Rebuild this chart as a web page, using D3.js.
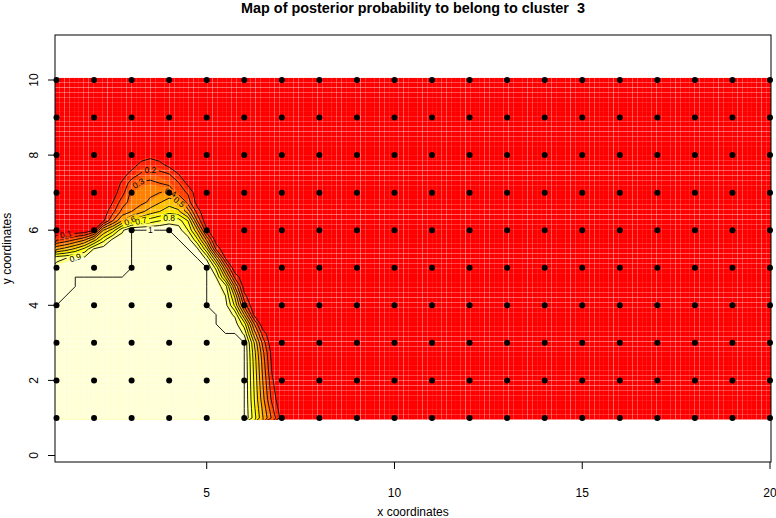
<!DOCTYPE html>
<html><head><meta charset="utf-8">
<script src="https://cdn.jsdelivr.net/npm/d3@7/dist/d3.min.js"></script>
<style>
html,body{margin:0;padding:0;background:#fff;}
svg{display:block;}
text{font-family:"Liberation Sans",Arial,Helvetica,sans-serif;fill:#000;white-space:pre;}
</style></head><body>
<svg id="chart" width="776" height="518"></svg>
<script>
// ---------------- data ----------------
const TITLE = "Map of posterior probability to belong to cluster  3";
const X_LABEL = "x coordinates";
const Y_LABEL = "y coordinates";
const X_TICKS = [5, 10, 15, 20];
const Y_TICKS = [0, 2, 4, 6, 8, 10];
const SITE_X = [1,2,3,4,5,6,7,8,9,10,11,12,13,14,15,16,17,18,19,20];
const SITE_Y = [1,2,3,4,5,6,7,8,9,10];
// estimated posterior probability (percent) on a 0.25 grid, x = 1..7.5, y = 8.5..1 (top to bottom); elsewhere 0
const GRID_X = [1,1.25,1.5,1.75,2,2.25,2.5,2.75,3,3.25,3.5,3.75,4,4.25,4.5,4.75,5,5.25,5.5,5.75,6,6.25,6.5,6.75,7,7.25,7.5];
const GRID_Y = [8.5,8.25,8,7.75,7.5,7.25,7,6.75,6.5,6.25,6,5.75,5.5,5.25,5,4.75,4.5,4.25,4,3.75,3.5,3.25,3,2.75,2.5,2.25,2,1.75,1.5,1.25,1];
const PROB = [
 [0,0,0,0,0,0,0,0,0,0,0,0,0,0,0,0,0,0,0,0,0,0,0,0,0,0,0],
 [0,0,0,0,0,0,0,0,0,0,0,0,0,0,0,0,0,0,0,0,0,0,0,0,0,0,0],
 [0,0,0,0,0,0,0,0,0,4,7,4,0,0,0,0,0,0,0,0,0,0,0,0,0,0,0],
 [0,0,0,0,0,0,0,0,4,13,15,13,6,0,0,0,0,0,0,0,0,0,0,0,0,0,0],
 [0,0,0,0,0,0,0,5,14,21,24,23,20,10,3,0,0,0,0,0,0,0,0,0,0,0,0],
 [0,0,0,0,0,0,2,12,25,32,33,30,26,21,7,0,0,0,0,0,0,0,0,0,0,0,0],
 [0,0,0,0,0,0,5,16,33,36,38,40,43,24,19,3,0,0,0,0,0,0,0,0,0,0,0],
 [0,0,0,0,0,2,10,25,34,37,42,49,55,52,25,5,0,0,0,0,0,0,0,0,0,0,0],
 [0,0,0,0,0,4,17,33,40,47,55,60,66,62,45,15,0,0,0,0,0,0,0,0,0,0,0],
 [0,0,0,0,0,8,30,50,62,70,75,80,85,85,70,30,0,0,0,0,0,0,0,0,0,0,0],
 [0,0,0,0,10,50,65,88,100,100,100,100,100,95,80,52,12,0,0,0,0,0,0,0,0,0,0],
 [18,23,30,38,55,76,92,95,100,100,100,100,100,100,95,72,38,3,0,0,0,0,0,0,0,0,0],
 [48,54,62,73,91,95,97,98,100,100,100,100,100,100,100,92,62,18,0,0,0,0,0,0,0,0,0],
 [88,90,92,93,95,97,97,97,100,100,100,100,100,100,100,100,88,50,10,0,0,0,0,0,0,0,0],
 [93,94,95,96,96,97,97,97,100,100,100,100,100,100,100,100,100,77,35,0,0,0,0,0,0,0,0],
 [97,97,100,100,100,100,100,100,100,100,100,100,100,100,100,100,100,90,57,18,0,0,0,0,0,0,0],
 [98,99,100,100,100,100,100,100,100,100,100,100,100,100,100,100,100,95,85,40,4,0,0,0,0,0,0],
 [99,100,100,100,100,100,100,100,100,100,100,100,100,100,100,100,100,96,90,58,13,0,0,0,0,0,0],
 [100,100,100,100,100,100,100,100,100,100,100,100,100,100,100,100,100,97,94,68,27,0,0,0,0,0,0],
 [100,100,100,100,100,100,100,100,100,100,100,100,100,100,100,100,100,100,96,88,50,10,0,0,0,0,0],
 [100,100,100,100,100,100,100,100,100,100,100,100,100,100,100,100,100,100,98,95,75,33,0,0,0,0,0],
 [100,100,100,100,100,100,100,100,100,100,100,100,100,100,100,100,100,100,100,100,88,47,15,0,0,0,0],
 [100,100,100,100,100,100,100,100,100,100,100,100,100,100,100,100,100,100,100,100,100,62,26,0,0,0,0],
 [100,100,100,100,100,100,100,100,100,100,100,100,100,100,100,100,100,100,100,100,100,66,32,4,0,0,0],
 [100,100,100,100,100,100,100,100,100,100,100,100,100,100,100,100,100,100,100,100,100,68,35,6,0,0,0],
 [100,100,100,100,100,100,100,100,100,100,100,100,100,100,100,100,100,100,100,100,100,69,37,8,0,0,0],
 [100,100,100,100,100,100,100,100,100,100,100,100,100,100,100,100,100,100,100,100,100,70,39,11,0,0,0],
 [100,100,100,100,100,100,100,100,100,100,100,100,100,100,100,100,100,100,100,100,100,71,41,13,0,0,0],
 [100,100,100,100,100,100,100,100,100,100,100,100,100,100,100,100,100,100,100,100,100,72,43,16,0,0,0],
 [100,100,100,100,100,100,100,100,100,100,100,100,100,100,100,100,100,100,100,100,100,74,47,22,2,0,0],
 [100,100,100,100,100,100,100,100,100,100,100,100,100,100,100,100,100,100,100,100,100,76,50,27,5,0,0]
];
const CONTOUR_LEVELS = [0.1,0.2,0.3,0.4,0.5,0.6,0.7,0.8,0.9,1];
const HEAT_COLORS = ["#FF0000","#FF2000","#FF4000","#FF6000","#FF8000","#FF9F00",
                     "#FFBF00","#FFDF00","#FFFF00","#FFFF2A","#FFFF80","#FFFFD5"];

// ---------------- layout ----------------
const W = 776, H = 518;
const frame = {l: 55, r: 771, t: 35, b: 462};
const sx = d3.scaleLinear().domain([1, 20]).range([56.5, 770]);
const sy = d3.scaleLinear().domain([0, 10]).range([455.5, 80]);
const img = {l: frame.l, r: frame.r, t: sy(10.06), b: sy(0.955)};

const svg = d3.select("#chart");
const defs = svg.append("defs");
defs.append("clipPath").attr("id","imgclip").append("rect")
  .attr("x", img.l).attr("y", img.t).attr("width", img.r - img.l).attr("height", img.b - img.t);

const nx = GRID_X.length, ny = GRID_Y.length;
const flat = [].concat(...PROB);
const stepX = GRID_X[1] - GRID_X[0], stepY = GRID_Y[1] - GRID_Y[0];
const gx = c => GRID_X[0] + (c - 0.5) * stepX;
const gy = r => GRID_Y[0] + (r - 0.5) * stepY;
const proj = d3.geoTransform({ point: function(c, r){ this.stream.point(sx(gx(c)), sy(gy(r))); } });
const path = d3.geoPath(proj);

// image: background (value 0) + filled bands of heat colours
const imgG = svg.append("g").attr("clip-path","url(#imgclip)");
imgG.append("rect").attr("x", img.l).attr("y", img.t).attr("width", img.r - img.l).attr("height", img.b - img.t)
  .attr("fill", HEAT_COLORS[0]);
const bandThr = HEAT_COLORS.slice(1).map((c, k) => (k + 1) * 100 / HEAT_COLORS.length);
const bands = d3.contours().size([nx, ny]).thresholds(bandThr)(flat);
imgG.selectAll("path.band").data(bands).join("path").attr("class","band")
  .attr("d", path).attr("fill", (d, i) => HEAT_COLORS[i + 1]).attr("stroke", "none");

// raster seams of the image cells
const seamG = svg.append("g").attr("clip-path","url(#imgclip)");
const cellW = (img.r - img.l) / 150, cellH = (img.b - img.t) / 70;
const vs = d3.range(1, 150).map(i => img.l + i * cellW);
const hs = d3.range(1, 70).map(i => img.t + i * cellH);
const seamOp = p => { const f = p - Math.floor(p); return 0.4 * (1 - Math.abs(2 * f - 1)); };
seamG.selectAll("line.v").data(vs).join("line").attr("class","v")
  .attr("x1", p => Math.floor(p) + 0.5).attr("x2", p => Math.floor(p) + 0.5)
  .attr("y1", img.t).attr("y2", img.b).attr("stroke","#fff").attr("stroke-width",1)
  .attr("stroke-opacity", seamOp);
seamG.selectAll("line.h").data(hs).join("line").attr("class","h")
  .attr("y1", p => Math.floor(p) + 0.5).attr("y2", p => Math.floor(p) + 0.5)
  .attr("x1", img.l).attr("x2", img.r).attr("stroke","#fff").attr("stroke-width",1)
  .attr("stroke-opacity", seamOp);

// contour lines
const lines = d3.contours().size([nx, ny]).thresholds(CONTOUR_LEVELS.map(v => Math.round(v * 100)))(flat);

// label spots (where R put the labels)
const LABEL_SPOTS = [
  {lev: 0.1, x: 1.12, y: 5.84}, {lev: 0.2, x: 3.53, y: 7.6}, {lev: 0.3, x: 3.13, y: 7.27},
  {lev: 0.4, x: 4.12, y: 7.02}, {lev: 0.5, x: 4.2, y: 6.65}, {lev: 0.6, x: 2.95, y: 6.3},
  {lev: 0.7, x: 3.3, y: 6.3}, {lev: 0.8, x: 4.1, y: 6.33}, {lev: 0.9, x: 1.4, y: 5.22},
  {lev: 1, x: 3.5, y: 6.0}
];
const labels = [];
LABEL_SPOTS.forEach(s => {
  const li = CONTOUR_LEVELS.indexOf(s.lev);
  const c = lines[li];
  const hx = sx(s.x), hy = sy(s.y);
  let best = null;
  c.coordinates.forEach(poly => poly.forEach(ring => {
    const pts = ring.map(([a, b]) => [sx(gx(a)), sy(gy(b))]);
    pts.forEach((p, i) => {
      if (p[0] < img.l + 3 || p[0] > img.r - 3 || p[1] < img.t + 3 || p[1] > img.b - 3) return;
      const d = (p[0] - hx) ** 2 + (p[1] - hy) ** 2;
      if (!best || d < best.d) best = {d, pts, i};
    });
  }));
  if (!best) return;
  const n = best.pts.length;
  const a = best.pts[(best.i - 2 + n) % n], b = best.pts[(best.i + 2) % n];
  let ang = Math.atan2(b[1] - a[1], b[0] - a[0]) * 180 / Math.PI;
  if (ang > 90) ang -= 180; if (ang < -90) ang += 180;
  const txt = String(s.lev);
  labels.push({x: hx, y: hy, px: best.pts[best.i][0], py: best.pts[best.i][1], ang, txt, w: txt.length * 4.6 + 3});
});

const mask = defs.append("mask").attr("id","lblmask").attr("maskUnits","userSpaceOnUse")
  .attr("x",0).attr("y",0).attr("width",W).attr("height",H);
mask.append("rect").attr("x",0).attr("y",0).attr("width",W).attr("height",H).attr("fill","#fff");
mask.selectAll("rect.h").data(labels).join("rect").attr("class","h")
  .attr("x", d => -d.w / 2).attr("y", -4).attr("width", d => d.w).attr("height", 8)
  .attr("transform", d => `translate(${d.px},${d.py}) rotate(${d.ang})`).attr("fill","#000");

const lineG = svg.append("g").attr("clip-path","url(#imgclip)");
lineG.append("g").attr("mask","url(#lblmask)")
  .selectAll("path").data(lines).join("path")
  .attr("d", path).attr("fill","none").attr("stroke","#000").attr("stroke-width",0.9)
  .attr("stroke-linejoin","round");
lineG.selectAll("text.lab").data(labels).join("text").attr("class","lab")
  .attr("transform", d => `translate(${d.px},${d.py}) rotate(${d.ang})`)
  .attr("text-anchor","middle").attr("dy","0.35em").attr("font-size", 8.5).text(d => d.txt);

// sites
const sites = [];
SITE_Y.forEach(yv => SITE_X.forEach(xv => sites.push([xv, yv])));
svg.append("g").selectAll("circle").data(sites).join("circle")
  .attr("cx", d => sx(d[0])).attr("cy", d => sy(d[1])).attr("r", 3).attr("fill","#000");

// frame
svg.append("rect").attr("x", frame.l).attr("y", frame.t).attr("width", frame.r - frame.l)
  .attr("height", frame.b - frame.t).attr("fill","none").attr("stroke","#000").attr("stroke-width",1);

// axes
const ax = svg.append("g");
ax.selectAll("line.xt").data(X_TICKS).join("line").attr("class","xt")
  .attr("x1", d => sx(d)).attr("x2", d => sx(d)).attr("y1", frame.b).attr("y2", frame.b + 7).attr("stroke","#000");
ax.selectAll("text.xt").data(X_TICKS).join("text").attr("class","xt")
  .attr("x", d => sx(d)).attr("y", 497).attr("text-anchor","middle").attr("font-size",12).text(d => d);
ax.selectAll("line.yt").data(Y_TICKS).join("line").attr("class","yt")
  .attr("y1", d => sy(d)).attr("y2", d => sy(d)).attr("x1", frame.l).attr("x2", frame.l - 7).attr("stroke","#000");
ax.selectAll("text.yt").data(Y_TICKS).join("text").attr("class","yt")
  .attr("transform", d => `translate(37.5,${sy(d)}) rotate(-90)`).attr("text-anchor","middle")
  .attr("font-size",12).text(d => d);

svg.append("text").attr("x", (frame.l + frame.r) / 2).attr("y", 516).attr("text-anchor","middle")
  .attr("font-size",12).text(X_LABEL);
svg.append("text").attr("transform", `translate(11,${(frame.t + frame.b) / 2}) rotate(-90)`)
  .attr("text-anchor","middle").attr("font-size",12).text(Y_LABEL);
svg.append("text").attr("x", (frame.l + frame.r) / 2).attr("y", 13).attr("text-anchor","middle")
  .attr("xml:space","preserve")
  .attr("font-size",14.4).attr("font-weight","bold").text(TITLE);
</script>
</body></html>
